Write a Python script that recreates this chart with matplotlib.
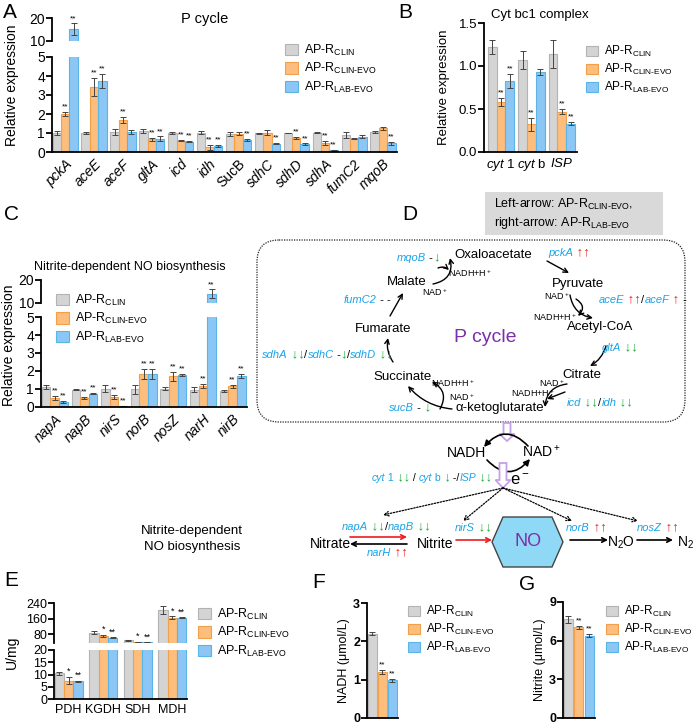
import numpy as np
import matplotlib
matplotlib.use('Agg')
import matplotlib.pyplot as plt
from matplotlib import font_manager
from matplotlib.patches import Patch, Rectangle, FancyBboxPatch, FancyArrowPatch, FancyArrow, Polygon

# ---- data ----
genes_A = ['pckA', 'aceE', 'aceF', 'gltA', 'icd', 'idh', 'SucB', 'sdhC', 'sdhD', 'sdhA', 'fumC2', 'mqoB']
A_clin = [1.0, 1.0, 1.05, 1.1, 1.0, 1.02, 0.93, 0.98, 1.0, 1.02, 0.9, 1.05]
A_clin_err = [0.1, 0.07, 0.15, 0.12, 0.04, 0.08, 0.1, 0.03, 0.02, 0.04, 0.15, 0.05]
A_evo = [2.0, 3.42, 1.7, 0.68, 0.6, 0.25, 0.97, 1.02, 0.72, 0.47, 0.7, 1.26]
A_evo_err = [0.1, 0.48, 0.15, 0.08, 0.04, 0.12, 0.08, 0.15, 0.05, 0.1, 0.03, 0.08]
A_lab = [15.3, 3.75, 1.05, 0.7, 0.55, 0.3, 0.63, 0.43, 0.4, 0.08, 0.8, 0.47]
A_lab_err = [2.5, 0.38, 0.12, 0.12, 0.04, 0.05, 0.06, 0.03, 0.05, 0.02, 0.07, 0.08]
A_sig_evo = ['**', '**', '**', '**', '**', '**', '', '', '**', '**', '', '']
A_sig_lab = ['**', '**', '', '**', '**', '**', '**', '**', '**', '**', '', '**']

genes_B = [r'$\it{cyt}$ 1', r'$\it{cyt}$ b', r'$\it{ISP}$']
B_clin = [1.22, 1.07, 1.14]
B_clin_err = [0.08, 0.11, 0.16]
B_evo = [0.58, 0.32, 0.47]
B_evo_err = [0.05, 0.08, 0.03]
B_lab = [0.83, 0.93, 0.33]
B_lab_err = [0.08, 0.03, 0.02]
B_sig_evo = ['**', '**', '**']
B_sig_lab = ['**', '', '**']

genes_C = ['napA', 'napB', 'nirS', 'norB', 'nosZ', 'narH', 'nirB']
C_clin = [1.1, 0.97, 1.02, 1.0, 1.02, 0.97, 0.9]
C_clin_err = [0.12, 0.03, 0.2, 0.25, 0.1, 0.12, 0.05]
C_evo = [0.5, 0.52, 0.57, 1.82, 1.72, 1.18, 1.15]
C_evo_err = [0.12, 0.05, 0.12, 0.28, 0.25, 0.12, 0.1]
C_lab = [0.3, 0.75, 0.05, 1.82, 1.78, 14.0, 1.72]
C_lab_err = [0.05, 0.03, 0.02, 0.28, 0.05, 2.0, 0.1]
C_sig_evo = ['**'] * 7
C_sig_lab = ['**'] * 7

enz_E = ['PDH', 'KGDH', 'SDH', 'MDH']
E_clin = [10.5, 88, 49, 205]
E_clin_err = [0.5, 8, 3, 20]
E_evo = [7.5, 72, 41, 166]
E_evo_err = [1.5, 6, 2, 8]
E_lab = [7.2, 63, 41, 166]
E_lab_err = [0.3, 3, 1, 3]
E_sig_evo = ['*', '*', '*', '*']
E_sig_lab = ['**', '**', '**', '**']

F_vals = [2.2, 1.2, 0.98]
F_err = [0.04, 0.06, 0.04]
G_vals = [7.65, 7.05, 6.4]
G_err = [0.25, 0.12, 0.12]
FG_sig = ['', '**', '**']

# ---- style ----
names = {f.name for f in font_manager.fontManager.ttflist}
FONT = 'Liberation Sans Narrow' if 'Liberation Sans Narrow' in names else 'Liberation Sans'
plt.rcParams['font.family'] = [FONT, 'DejaVu Sans']
plt.rcParams['mathtext.fontset'] = 'custom'
plt.rcParams['mathtext.rm'] = FONT
plt.rcParams['mathtext.it'] = FONT + ':italic'
plt.rcParams['mathtext.bf'] = FONT + ':bold'

COLORS = ['#d4d4d4', '#fcbd7d', '#8cc6f4']
EDGES = ['#b3b3b3', '#f0a04b', '#58b5e6']
LABELS = [r'AP-R$_{\mathregular{CLIN}}$', r'AP-R$_{\mathregular{CLIN‐EVO}}$', r'AP-R$_{\mathregular{LAB‐EVO}}$']
BLUE = '#1aa3e8'
GREEN = '#1faa3c'
RED = '#ee1c1c'

W, H = 696, 724
fig = plt.figure(figsize=(W / 100, H / 100), dpi=100)


def pax(x0, y0, x1, y1):
    return fig.add_axes([x0 / W, 1 - y1 / H, (x1 - x0) / W, (y1 - y0) / H])


def style(ax, bottom=True, fs=10, bold=False):
    for s in ['top', 'right']:
        ax.spines[s].set_visible(False)
    if not bottom:
        ax.spines['bottom'].set_visible(False)
        ax.set_xticks([])
    ax.spines['left'].set_linewidth(1.3)
    ax.spines['bottom'].set_linewidth(1.3)
    ax.tick_params(axis='y', width=1.3, length=4, pad=1, labelsize=fs)
    ax.tick_params(axis='x', length=0)
    if bold:
        for t in ax.get_yticklabels():
            t.set_fontweight('bold')
    ax.patch.set_visible(False)


def bars(ax, vals, errs, marks, w, cut=None, ax_up=None, pad=0.08, pad_up=0.3, sfs=6):
    x = np.arange(len(vals[0]))
    ekw = dict(ecolor='#444444', elinewidth=0.7, capsize=2, capthick=0.7)
    for j in range(3):
        v = np.asarray(vals[j], float)
        e = np.asarray(errs[j], float)
        xs = x + (j - 1) * w
        big = np.zeros(len(v), bool) if cut is None else v > cut
        ax.bar(xs, v, w, color=COLORS[j], edgecolor=EDGES[j], lw=0.8,
               yerr=np.where(big, 0, e), error_kw=ekw)
        if big.any():
            ax_up.bar(xs[big], v[big], w, color=COLORS[j], edgecolor=EDGES[j], lw=0.8,
                      yerr=e[big], error_kw=ekw)
        if marks[j] is None:
            continue
        for k in range(len(v)):
            if not marks[j][k]:
                continue
            if big[k]:
                ax_up.text(xs[k], v[k] + e[k] + pad_up, marks[j][k], ha='center', va='bottom', fontsize=sfs)
            else:
                ax.text(xs[k], v[k] + e[k] + pad, marks[j][k], ha='center', va='bottom', fontsize=sfs)
    return x


def legend(x, y, fs):
    handles = [Patch(facecolor=COLORS[j], edgecolor=EDGES[j], lw=0.8) for j in range(3)]
    fig.legend(handles, LABELS, loc='upper left', bbox_to_anchor=(x / W, 1 - y / H), frameon=False,
               fontsize=fs, handlelength=1.0, handleheight=1.0, handletextpad=0.5,
               labelspacing=0.25, borderpad=0, borderaxespad=0)


# ---- A ----
w = 0.29
axA = pax(52, 57, 397, 152)
axAu = pax(52, 18, 397, 41)
bars(axA, [A_clin, A_evo, A_lab], [A_clin_err, A_evo_err, A_lab_err], [None, A_sig_evo, A_sig_lab],
     w, cut=5, ax_up=axAu)
for a in (axA, axAu):
    a.set_xlim(-1.5 * w - 0.02, len(genes_A) - 1 + 1.5 * w + 0.05)
axA.set_ylim(0, 5)
axA.set_yticks(range(6))
axAu.set_ylim(10, 20)
axAu.set_yticks([10, 20])
axA.set_xticks(range(len(genes_A)))
axA.set_xticklabels(genes_A, rotation=45, ha='right', rotation_mode='anchor', fontsize=10)
for t in axA.get_xticklabels():
    t.set_style('normal' if t.get_text() == 'SucB' else 'italic')
style(axA)
style(axAu, bottom=False)
legend(285, 43, 9)

# ---- B ----
axB = pax(484, 23, 577, 152)
bars(axB, [B_clin, B_evo, B_lab], [B_clin_err, B_evo_err, B_lab_err], [None, B_sig_evo, B_sig_lab],
     w, pad=0.015, sfs=6)
axB.set_xlim(-1.5 * w - 0.12, 2 + 1.5 * w + 0.06)
axB.set_ylim(0, 1.5)
axB.set_yticks([0, 0.5, 1.0, 1.5])
axB.set_yticklabels(['0.0', '0.5', '1.0', '1.5'])
axB.set_xticks(range(3))
axB.set_xticklabels(genes_B, fontsize=9.5)
style(axB, fs=9.5)
legend(586, 44, 8.5)

# ---- C ----
axC = pax(41, 317, 247, 407)
axCu = pax(41, 280, 247, 303)
bars(axC, [C_clin, C_evo, C_lab], [C_clin_err, C_evo_err, C_lab_err], [None, C_sig_evo, C_sig_lab],
     w, cut=5, ax_up=axCu)
for a in (axC, axCu):
    a.set_xlim(-1.5 * w - 0.03, len(genes_C) - 1 + 1.5 * w + 0.05)
axC.set_ylim(0, 5)
axC.set_yticks(range(6))
axCu.set_ylim(10, 20)
axCu.set_yticks([10, 20])
axC.set_xticks(range(len(genes_C)))
axC.set_xticklabels(genes_C, rotation=45, ha='right', rotation_mode='anchor', fontsize=10, style='italic')
style(axC)
style(axCu, bottom=False)
legend(56, 293, 9)

# ---- E ----
wE = 0.27
axE = pax(54, 650, 187, 699)
axEu = pax(54, 603, 187, 643)
bars(axE, [E_clin, E_evo, E_lab], [E_clin_err, E_evo_err, E_lab_err], [None, E_sig_evo, E_sig_lab],
     wE, cut=20, ax_up=axEu, pad=0.4, pad_up=3, sfs=6.5)
for a in (axE, axEu):
    a.set_xlim(-1.5 * wE - 0.02, 3 + 1.5 * wE + 0.02)
axE.set_ylim(0, 20)
axE.set_yticks([0, 5, 10, 15, 20])
axEu.set_ylim(36, 240)
axEu.set_yticks([80, 160, 240])
axE.set_xticks(range(4))
axE.set_xticklabels(enz_E, fontsize=9)
style(axE, fs=9)
style(axEu, bottom=False, fs=9)
legend(198, 607, 9)

# ---- F, G ----
for (x0, x1, y0, vals, err, top, ticks, lab, lx) in [
        (367, 398, 603, F_vals, F_err, 3, [0, 1, 2, 3], 'NADH (μmol/L)', 408),
        (563, 595, 602, G_vals, G_err, 9, [0, 3, 6, 9], 'Nitrite (μmol/L)', 606)]:
    ax = pax(x0, y0, x1, 718)
    xs = np.arange(3)
    for j in range(3):
        ax.bar(xs[j], vals[j], 0.9, color=COLORS[j], edgecolor=EDGES[j], lw=0.8, yerr=err[j],
               error_kw=dict(ecolor='#444444', elinewidth=0.7, capsize=2, capthick=0.7))
        if FG_sig[j]:
            ax.text(xs[j], vals[j] + err[j] + top * 0.01, FG_sig[j], ha='center', va='bottom', fontsize=6)
    ax.set_xlim(-0.5, 2.55)
    ax.set_ylim(0, top)
    ax.set_yticks(ticks)
    ax.set_xticks([])
    style(ax, fs=9, bold=True)
    ax.set_ylabel(lab, fontsize=9, labelpad=2)
    legend(lx, 604, 8.5)

# ---- overlay: letters, titles, diagram ----
ov = fig.add_axes([0, 0, 1, 1])
ov.set_xlim(0, W)
ov.set_ylim(H, 0)
ov.axis('off')

for s, x, y in [('A', 3, 12), ('B', 398, 12), ('C', 4, 215), ('D', 402, 215),
                ('E', 4, 580), ('F', 312, 582), ('G', 519, 584)]:
    ov.text(x, y, s, fontsize=15, ha='left', va='center')

ov.text(205, 19, 'P cycle', fontsize=10.5, ha='center', va='center')
ov.text(12, 85, 'Relative expression', fontsize=10, rotation=90, ha='center', va='center')
ov.text(540, 15, 'Cyt bc1 complex', fontsize=9.5, ha='center', va='center')
ov.text(444, 87, 'Relative expression', fontsize=9.5, rotation=90, ha='center', va='center')
ov.text(130, 267, 'Nitrite-dependent NO biosynthesis', fontsize=9, ha='center', va='center')
ov.text(9, 345, 'Relative expression', fontsize=10, rotation=90, ha='center', va='center')
ov.text(12, 652, 'U/mg', fontsize=10, rotation=90, ha='center', va='center')

# D legend box
ov.add_patch(Rectangle((485, 192), 178, 43, facecolor='#d9d9d9', edgecolor='none'))
ov.text(494, 204, r'Left-arrow: AP-R$_{\mathregular{CLIN‐EVO}}$,', fontsize=9, va='center')
ov.text(494, 223, r'right-arrow: AP-R$_{\mathregular{LAB‐EVO}}$', fontsize=9, va='center')
ov.add_patch(FancyBboxPatch((257, 240), 428, 182, boxstyle='round,pad=0,rounding_size=22',
                            fill=False, ls=(0, (1, 1)), lw=0.9, ec='#222222'))


def arr(p, q, rad=0.0, color='k', ls='-', lw=1.0, ms=8, st='->'):
    ov.add_patch(FancyArrowPatch(p, q, connectionstyle=f'arc3,rad={rad}', arrowstyle=st, color=color,
                                 lw=lw, ls=ls, mutation_scale=ms, shrinkA=0, shrinkB=0))


def rainbow(x, y, parts, fs=8):
    t = None
    for s, c, stl in parts:
        is_arrow = ('↑' in s) or ('↓' in s)
        kw = dict(color=c, style=stl, fontsize=fs + 1.5 if is_arrow else fs,
                  fontweight='bold' if is_arrow else 'normal')
        if t is None:
            t = ov.text(x, y, s, ha='left', va='center', **kw)
        else:
            t = ov.annotate(s, xy=(1, 0), xycoords=t, va='bottom', ha='left', **kw)


for s, x, y in [('Oxaloacetate', 493, 255), ('Pyruvate', 578, 284), ('Acetyl-CoA', 600, 327),
                ('Citrate', 582, 375), ('α-ketoglutarate', 500, 408), ('Succinate', 403, 377),
                ('Fumarate', 383, 329), ('Malate', 407, 282)]:
    ov.text(x, y, s, fontsize=9.5, ha='center', va='center')
ov.text(485, 337, 'P cycle', fontsize=14, color='#7b2fa8', ha='center', va='center')
for s, x, y in [('NADH+H$^+$', 470, 273), ('NAD$^+$', 435, 292), ('NAD$^+$', 557, 296),
                ('NADH+H$^+$', 555, 317), ('NAD$^+$', 552, 383), ('NADH+H$^+$', 533, 393),
                ('NADH+H$^+$', 453, 383), ('NAD$^+$', 462, 397)]:
    ov.text(x, y, s, fontsize=6.5, ha='center', va='center')

rainbow(397, 258, [('mqoB', BLUE, 'italic'), (' -', 'k', 'normal'), ('↓', GREEN, 'normal')])
rainbow(548, 253, [('pckA', BLUE, 'italic'), (' ↑↑', RED, 'normal')])
rainbow(344, 300, [('fumC2', BLUE, 'italic'), (' - -', 'k', 'normal')])
rainbow(599, 300, [('aceE', BLUE, 'italic'), (' ↑↑', RED, 'normal'), ('/', 'k', 'normal'),
                   ('aceF', BLUE, 'italic'), (' ↑', RED, 'normal'), (' -', 'k', 'normal')])
rainbow(602, 348, [('gltA', BLUE, 'italic'), (' ↓↓', GREEN, 'normal')])
rainbow(262, 355, [('sdhA', BLUE, 'italic'), (' ↓↓', GREEN, 'normal'), ('/', 'k', 'normal'),
                   ('sdhC', BLUE, 'italic'), (' -', 'k', 'normal'), ('↓', GREEN, 'normal'),
                   ('/', 'k', 'normal'), ('sdhD', BLUE, 'italic'), (' ↓↓', GREEN, 'normal')])
rainbow(567, 403, [('icd', BLUE, 'italic'), (' ↓↓', GREEN, 'normal'), ('/', 'k', 'normal'),
                   ('idh', BLUE, 'italic'), (' ↓↓', GREEN, 'normal')])
rainbow(389, 408, [('sucB', BLUE, 'italic'), (' -', 'k', 'normal'), (' ↓', GREEN, 'normal')])

# cycle arrows
arr((547, 261), (569, 273))
arr((570, 295), (593, 318), rad=0.35)
arr((576, 299), (578, 316), rad=-0.6)
arr((606, 346), (590, 366), rad=-0.2)
arr((567, 384), (545, 407), rad=0.4)
arr((565, 392), (547, 399))
arr((452, 409), (408, 386), rad=-0.2)
arr((440, 409), (432, 382), rad=0.5)
arr((393, 362), (388, 338), rad=-0.2)
arr((390, 316), (403, 293))
arr((433, 284), (450, 258), rad=0.5)
arr((438, 268), (449, 270), rad=-0.3)

# NADH loop
ov.add_patch(FancyArrow(507, 423, 0, 18, width=7, head_width=15, head_length=7, length_includes_head=True,
                        fc='white', ec='#c4a0e6', lw=1.3))
ov.text(467, 453, 'NADH', fontsize=10, ha='center', va='center')
ov.text(541, 452, 'NAD$^+$', fontsize=10, ha='center', va='center')
arr((528, 446), (484, 447), rad=0.55, lw=1.2, ms=9, st='-|>')
arr((487, 460), (530, 459), rad=0.55, lw=1.2, ms=9, st='-|>')
ov.add_patch(FancyArrow(503, 463, 0, 25, width=7, head_width=15, head_length=8, length_includes_head=True,
                        fc='white', ec='#c4a0e6', lw=1.3))
ov.text(520, 480, 'e$^-$', fontsize=12, ha='center', va='center')
rainbow(372, 478, [('cyt', BLUE, 'italic'), (' 1', BLUE, 'normal'), (' ↓↓', GREEN, 'normal'),
                   (' / ', 'k', 'normal'), ('cyt', BLUE, 'italic'), (' b', BLUE, 'normal'),
                   (' ↓', GREEN, 'normal'), (' -/', 'k', 'normal'), ('ISP', BLUE, 'italic'),
                   (' ↓↓', GREEN, 'normal')], fs=7.5)
for q in [(383, 515), (463, 521), (572, 521), (638, 521)]:
    arr((503, 488), q, ls=(0, (1.2, 1.2)), lw=0.9, ms=8)

# nitrogen pathway
ov.text(192, 539, 'Nitrite-dependent\nNO biosynthesis', fontsize=9.5, ha='center', va='center', linespacing=1.5)
ov.text(330, 544, 'Nitrate', fontsize=10, ha='center', va='center')
ov.text(435, 544, 'Nitrite', fontsize=10, ha='center', va='center')
ov.text(621, 543, 'N$_2$O', fontsize=10, ha='center', va='center')
ov.text(686, 543, 'N$_2$', fontsize=10, ha='center', va='center')
arr((350, 537), (407, 537), color=RED, lw=1.2)
arr((407, 544), (350, 544), lw=1.2)
arr((456, 540), (492, 540), color=RED, lw=1.2)
arr((570, 540), (608, 540), lw=1.2)
arr((637, 540), (673, 540), lw=1.2)
ov.add_patch(Polygon([(503, 517), (552, 517), (563, 542), (552, 567), (503, 567), (492, 542)],
                     closed=True, fc='#8fd9f7', ec='#444444', lw=1.0))
ov.text(528, 542, 'NO', fontsize=13, color='#7b2fa8', ha='center', va='center')
rainbow(342, 527, [('napA', BLUE, 'italic'), (' ↓↓', GREEN, 'normal'), ('/', 'k', 'normal'),
                   ('napB', BLUE, 'italic'), (' ↓↓', GREEN, 'normal')])
rainbow(367, 553, [('narH', BLUE, 'italic'), (' ↑↑', RED, 'normal')])
rainbow(455, 528, [('nirS', BLUE, 'italic'), (' ↓↓', GREEN, 'normal')])
rainbow(566, 528, [('norB', BLUE, 'italic'), (' ↑↑', RED, 'normal')])
rainbow(637, 528, [('nosZ', BLUE, 'italic'), (' ↑↑', RED, 'normal')])

fig.savefig('out.png', dpi=100)
